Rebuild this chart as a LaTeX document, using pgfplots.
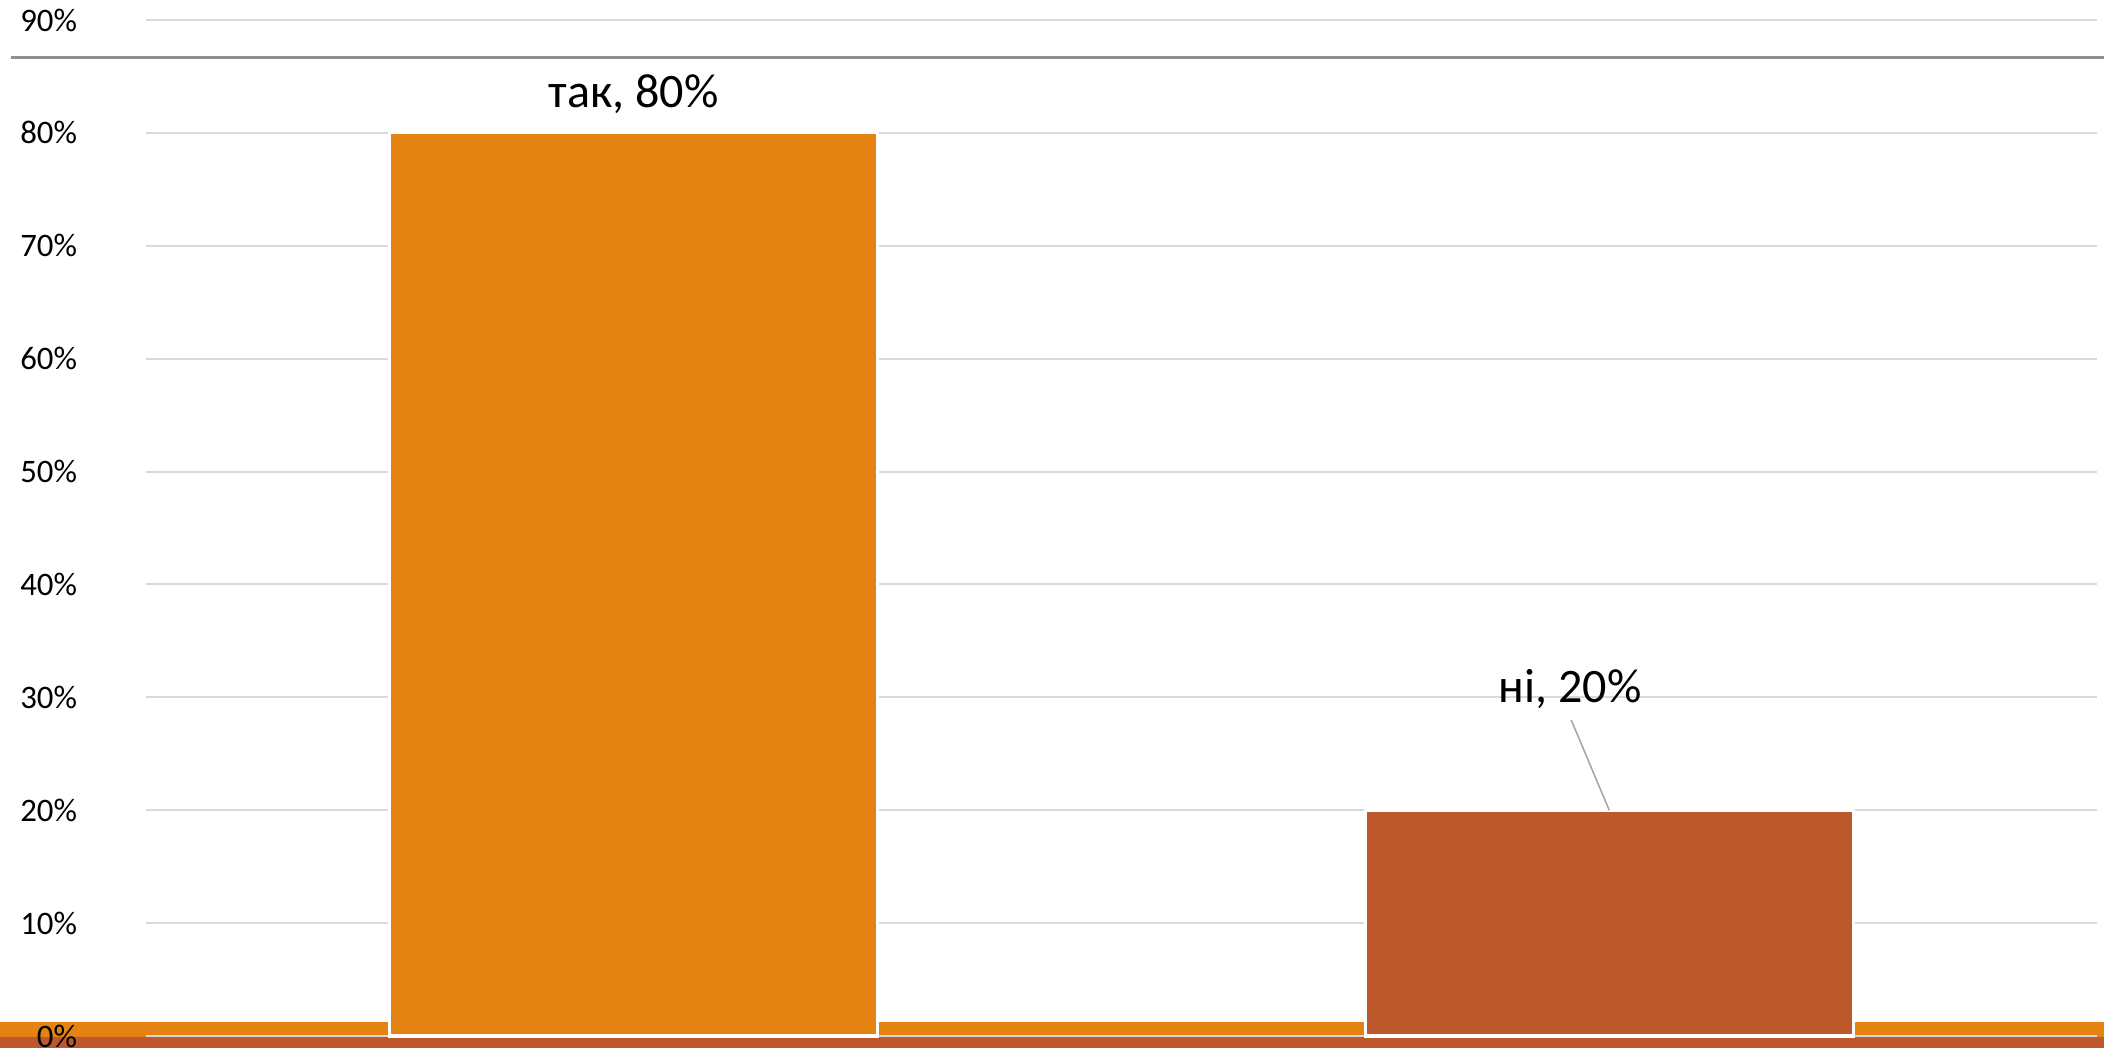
\documentclass[border=0pt]{standalone}
\usepackage{fontspec}
\setmainfont{Carlito}
\usepackage{pgfplots}
\pgfplotsset{compat=1.18}
\definecolor{orangeA}{HTML}{E48312}
\definecolor{brownA}{HTML}{BD582C}
\definecolor{gridgray}{HTML}{D9D9D9}
\definecolor{sepgray}{HTML}{8F8F8F}
\definecolor{leadgray}{HTML}{A6A6A6}
\begin{document}
\begin{tikzpicture}[x=0.387pt,y=0.387pt]
% frame of the slide: page size in pixel units of the reference
\useasboundingbox (-146,-12) rectangle (1958,1036);
\fill[orangeA] (-146,-1) rectangle (1958,14);
\fill[brownA] (-146,-12) rectangle (1958,-1);
\draw[sepgray, line width=0.8pt] (-135,978.5) -- (1958,978.5);
\begin{axis}[at={(0,0)}, anchor=south west, scale only axis,
  width=755pt, height=393.2pt,
  xmin=-0.5, xmax=1.5, ymin=0, ymax=90,
  ytick={0,10,...,90}, xtick=\empty,
  ymajorgrids, grid style={gridgray, line width=0.75pt},
  axis line style={draw=none}, major tick length=0pt,
  yticklabel={\pgfmathprintnumber{\tick}\%},
  /pgf/number format/assume math mode=true,
  yticklabel style={font=\fontsize{12.7}{14}\selectfont, anchor=east, inner sep=0pt, xshift=-26.5pt},
  clip=false, ybar, bar width=0.5,
  point meta=explicit symbolic,
  nodes near coords style={anchor=base, yshift=10pt, font=\fontsize{18.6}{22}\selectfont, text=black}]
\addplot[fill=orangeA, draw=white, line width=1.2pt, bar shift=0pt, nodes near coords]
  coordinates {(0,80) [так, 80\%]};
\addplot[fill=brownA, draw=white, line width=1.2pt, bar shift=0pt]
  coordinates {(1,20) [ні, 20\%]};
\draw[leadgray, line width=0.6pt] (axis cs:0.961,28.0) -- (axis cs:1,20);
\node[anchor=base, font=\fontsize{18.6}{22}\selectfont, inner sep=0pt] at (axis cs:0.96,29.5) {ні, 20\%};
\end{axis}
\end{tikzpicture}
\end{document}
